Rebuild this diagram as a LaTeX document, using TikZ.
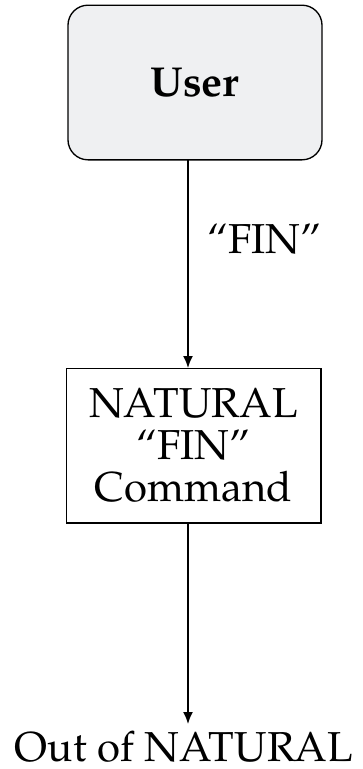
\documentclass[tikz,border=0pt]{standalone}
\usepackage[T1]{fontenc}
\usepackage{mathpazo}
\usetikzlibrary{arrows.meta}
\definecolor{userfill}{RGB}{239,240,242}
\tikzset{
  userbox/.style={draw, line width=1pt, fill=userfill, rounded corners=15pt, minimum width=190.5pt, minimum height=116pt, inner sep=0pt},
  cmdbox/.style={draw, line width=1pt, minimum width=191pt, minimum height=116pt, align=center, inner sep=0pt},
  flow/.style={line width=1.2pt, -{Latex[length=9pt,width=7.5pt]}},
  big/.style={font=\fontsize{31.4}{31.8}\selectfont}
}
\begin{document}
\begin{tikzpicture}[x=0.75pt,y=0.75pt,yscale=-1,xscale=1]
\useasboundingbox (0,0) rectangle (362,769);

%Rounded Rect
\node [userbox, big] (user) at (195,82.5) {\textbf{User}};
%Rect
\node [cmdbox, big] (cmd) at (193.5,445.5) {NATURAL\\``FIN''\\Command};
%Text
\node [big, inner sep=0pt, anchor=base] (out) at (184,761) {Out of NATURAL};

%Arrow ends
\coordinate (usertail) at (188,160);
\coordinate (cmdtip) at (188,368);
\coordinate (cmdtail) at (188,523);
\coordinate (outtip) at (188,724);

%Arrows
\draw [flow] (usertail) -- node [big, right, pos=0.38, inner sep=14pt] (fin) {``FIN''} (cmdtip);
\draw [flow] (cmdtail) -- (outtip);

\end{tikzpicture}
\end{document}
